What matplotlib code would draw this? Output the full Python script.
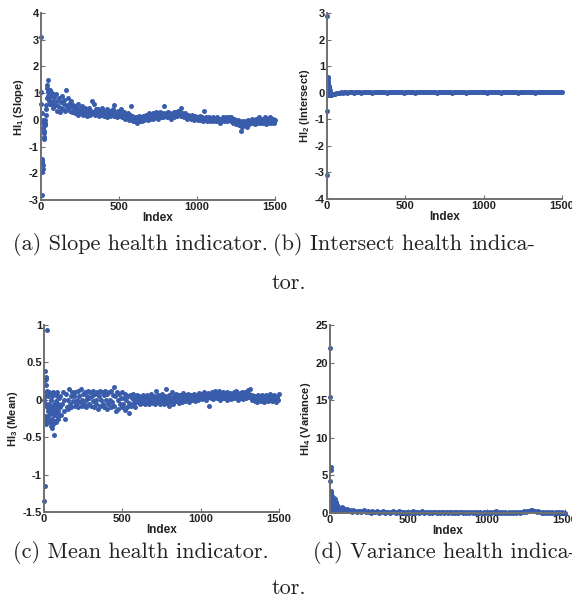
import numpy as np
import matplotlib
matplotlib.use('Agg')
from matplotlib import pyplot as plt
from matplotlib.ticker import FuncFormatter

plt.rcParams['axes.unicode_minus'] = False
plt.rcParams['mathtext.fontset'] = 'custom'
plt.rcParams['mathtext.rm'] = 'Liberation Sans:bold'
plt.rcParams['mathtext.default'] = 'rm'

BLUE = '#3a5dab'
AXIS = '#707070'

# --- (a) slope: early points, then band from index 60 in steps of 5
slope_early_idx = [1, 2, 3, 4, 5, 6, 7, 8, 9, 10, 11, 12, 14, 15, 17, 18, 20, 22, 24, 26,
                   28, 30, 32, 34, 36, 38, 40, 42, 44, 46, 48, 50, 52, 54, 56, 58]
slope_early = [3.1, 1.05, 0.6, 0.25, -1.45, -2.8, -1.95, -1.6, -1.55, -1.7, -1.85, -0.1,
               0.0, -0.3, -0.5, -0.65, -0.7, -0.4, -0.2, 0.0, -0.1, 0.2, 0.4, 0.55, 0.8,
               1.2, 1.3, 1.05, 1.5, 0.9, 1.1, 0.7, 1.0, 0.8, 1.1, 0.6]
slope_band = [
    0.9, 0.6, 1.0, 0.7, 0.45, 0.85, 0.55, 0.95, 0.35, 0.7,
    0.5, 0.8, 0.3, 0.65, 0.45, 0.9, 0.4, 0.6, 0.75, 0.35,
    1.1, 0.5, 0.8, 0.45, 0.6, 0.35, 0.7, 0.5, 0.3, 0.55,
    0.4, 0.25, 0.5, 0.3, 0.45, 0.2, 0.6, 0.35, 0.25, 0.45,
    0.3, 0.5, 0.2, 0.35, 0.45, 0.25, 0.4, 0.15, 0.35, 0.3,
    0.45, 0.2, 0.35, 0.25, 0.7, 0.3, 0.6, 0.2, 0.4, 0.3,
    0.25, 0.4, 0.15, 0.35, 0.3, 0.2, 0.45, 0.25, 0.35, 0.15,
    0.3, 0.2, 0.4, 0.1, 0.3, 0.25, 0.35, 0.15, 0.3, 0.2,
    0.4, 0.15, 0.55, 0.2, 0.3, 0.1, 0.25, 0.35, 0.15, 0.3,
    0.2, 0.4, 0.1, 0.25, 0.15, 0.3, 0.05, 0.2, 0.1, 0.25,
    0.15, 0.0, 0.2, 0.5, 0.05, 0.15, -0.05, 0.1, 0.0, -0.05,
    0.1, -0.1, 0.05, 0.0, 0.15, -0.05, 0.1, 0.05, -0.05, 0.15,
    0.0, 0.1, 0.2, 0.05, 0.15, 0.0, 0.25, 0.1, 0.05, 0.2,
    0.1, 0.25, 0.05, 0.2, 0.15, 0.3, 0.1, 0.2, 0.05, 0.25,
    0.15, 0.3, 0.1, 0.2, 0.25, 0.1, 0.5, 0.15, 0.25, 0.1,
    0.2, 0.3, 0.1, 0.15, 0.25, 0.05, 0.2, 0.15, 0.3, 0.1,
    0.2, 0.3, 0.15, 0.25, 0.35, 0.2, 0.3, 0.15, 0.45, 0.25,
    0.2, 0.1, 0.25, 0.15, 0.2, 0.05, 0.15, 0.2, 0.1, 0.15,
    0.05, 0.2, 0.1, 0.15, 0.0, 0.1, 0.15, 0.05, 0.1, 0.0,
    0.1, 0.05, 0.15, 0.0, 0.05, 0.1, -0.05, 0.35, 0.05, 0.0,
    0.1, -0.05, 0.05, 0.0, 0.1, -0.05, 0.05, 0.0, 0.1, -0.05,
    0.0, 0.05, -0.05, 0.1, 0.0, -0.05, 0.05, 0.0, -0.1, 0.05,
    0.0, 0.1, -0.05, 0.05, 0.0, 0.1, -0.05, 0.05, 0.0, 0.1,
    0.05, -0.05, 0.1, 0.0, -0.1, 0.05, -0.05, 0.0, -0.15, -0.05,
    -0.1, 0.0, -0.2, -0.05, -0.4, -0.15, -0.25, -0.05, -0.2, -0.1,
    -0.15, -0.05, -0.25, -0.1, 0.0, -0.15, -0.05, -0.1, 0.05, -0.05,
    -0.1, 0.0, -0.15, -0.05, 0.05, -0.1, 0.0, -0.05, 0.1, -0.1,
    -0.05, 0.0, -0.1, 0.05, -0.05, 0.1, -0.15, -0.05, 0.0, -0.1,
    0.05, -0.05, 0.1, -0.1, 0.0, -0.05, 0.05, -0.1, 0.0,
]

# --- (b) intersect: early points, then band from index 50 in steps of 10
inter_early_idx = [1, 2, 3, 4, 5, 6, 7, 8, 9, 10, 11, 12, 13, 14, 15, 16, 18, 20, 22, 25,
                   28, 32, 36, 40, 45]
inter_early = [2.9, -3.1, -0.7, 0.6, 0.55, 0.45, -0.1, 0.35, 0.3, 0.2, 0.25, 0.1, 0.15,
               0.05, -0.1, 0.1, 0.0, -0.05, -0.08, -0.1, -0.08, -0.05, -0.04, -0.06, -0.03]
inter_band = [
    -0.03, -0.02, 0.0, -0.01, 0.01, 0.0, 0.02, 0.01, 0.0, 0.02,
    0.01, 0.03, 0.0, 0.02, 0.01, 0.03, 0.02, 0.0, 0.02, 0.01,
    0.02, 0.03, 0.01, 0.02, 0.0, 0.02, 0.03, 0.01, 0.02, 0.02,
    0.01, 0.03, 0.02, 0.0, 0.02, 0.01, 0.03, 0.02, 0.01, 0.02,
    0.03, 0.01, 0.02, 0.02, 0.0, 0.03, 0.01, 0.02, 0.03, 0.01,
    0.02, 0.0, 0.02, 0.03, 0.01, 0.02, 0.01, 0.03, 0.02, 0.01,
    0.02, 0.03, 0.01, 0.02, 0.02, 0.0, 0.03, 0.01, 0.02, 0.02,
    0.01, 0.02, 0.03, 0.01, 0.02, 0.0, 0.02, 0.03, 0.01, 0.02,
    0.02, 0.01, 0.03, 0.02, 0.0, 0.02, 0.01, 0.03, 0.02, 0.01,
    0.02, 0.03, 0.01, 0.02, 0.02, 0.01, 0.03, 0.0, 0.02, 0.02,
    0.01, 0.02, 0.03, 0.01, 0.02, 0.02, 0.0, 0.03, 0.01, 0.02,
    0.02, 0.01, 0.03, 0.02, 0.01, 0.02, 0.03, 0.0, 0.02, 0.01,
    0.03, 0.02, 0.01, 0.02, 0.02, 0.03, 0.01, 0.02, 0.0, 0.02,
    0.01, 0.03, 0.02, 0.01, 0.02, 0.02, 0.03, 0.01, 0.02, 0.01,
    0.02, 0.03, 0.01, 0.02, 0.01, 0.02,
]

# --- (c) mean: early points, then band from index 100 in steps of 5
mean_early_idx = [2, 3, 4, 5, 6, 7, 8, 9, 10, 11, 12, 13, 14, 15, 18, 19, 20, 22, 24, 26,
                  28, 30, 32, 34, 36, 38, 40, 42, 44, 46, 48, 50, 52, 54, 56, 58, 60, 62,
                  64, 66, 68, 70, 72, 74, 76, 78, 80, 82, 84, 86, 88, 90, 92, 94, 96, 98]
mean_early = [0.0, -1.35, -1.15, 0.05, -0.25, -0.22, 0.26, 0.38, 0.3, -0.32, 0.28, 0.1,
              -0.05, 0.2, 0.93, -0.1, 0.12, -0.3, 0.05, -0.15, -0.25, 0.1, -0.05, -0.2,
              0.08, -0.12, -0.3, 0.0, -0.18, -0.35, 0.05, -0.1, -0.25, -0.38, 0.1, -0.15,
              -0.32, -0.05, -0.2, -0.47, 0.08, -0.12, -0.28, -0.02, -0.18, -0.3, 0.05,
              -0.1, -0.22, 0.1, -0.05, -0.15, -0.25, 0.02, -0.08, -0.2]
mean_band = [
    -0.1, 0.05, -0.2, -0.05, 0.1, -0.15, 0.0, -0.25, 0.08, -0.1,
    0.0, -0.12, 0.15, -0.05, 0.05, -0.1, 0.1, -0.02, 0.05, -0.08,
    0.1, -0.05, 0.0, 0.12, -0.1, 0.05, -0.03, 0.15, 0.0, -0.08,
    0.08, -0.05, 0.1, 0.0, -0.1, 0.05, 0.12, -0.06, 0.02, 0.1,
    -0.08, 0.05, -0.02, 0.12, -0.1, 0.08, 0.0, -0.05, 0.1, -0.12,
    0.05, 0.12, -0.08, 0.0, 0.1, -0.05, 0.07, -0.1, 0.12, 0.0,
    -0.12, 0.08, -0.05, 0.1, 0.0, -0.1, 0.12, -0.03, 0.06, 0.17,
    -0.08, 0.05, -0.15, 0.1, 0.0, -0.12, 0.08, -0.05, 0.03, -0.1,
    0.1, -0.06, 0.02, -0.13, 0.08, 0.0, -0.1, 0.05, -0.04, -0.18,
    0.06, -0.08, 0.02, -0.05, 0.08, 0.0, -0.1, 0.04, -0.03, 0.07,
    -0.02, 0.05, -0.06, 0.03, 0.0, -0.04, 0.06, -0.02, 0.02, -0.05,
    0.04, -0.03, 0.06, 0.0, -0.05, 0.03, 0.08, -0.02, 0.02, -0.04,
    0.05, 0.0, -0.06, 0.12, 0.02, -0.03, 0.06, 0.0, -0.05, 0.04,
    0.08, -0.02, 0.03, -0.06, 0.05, 0.0, 0.14, -0.04, 0.02, -0.08,
    0.06, 0.0, -0.03, 0.1, 0.02, -0.05, 0.05, 0.0, 0.08, -0.02,
    0.03, 0.07, -0.04, 0.02, 0.06, 0.0, -0.03, 0.05, 0.09, 0.01,
    -0.02, 0.06, 0.03, 0.0, 0.08, -0.03, 0.04, 0.02, 0.07, 0.0,
    0.05, 0.01, 0.08, -0.02, 0.04, 0.06, 0.0, 0.03, 0.09, 0.02,
    0.05, 0.08, 0.01, 0.06, 0.1, 0.03, 0.07, 0.0, 0.05, 0.09,
    0.04, -0.08, 0.06, 0.02, 0.1, 0.05, 0.01, 0.08, 0.12, 0.04,
    0.06, 0.02, 0.09, 0.05, 0.12, 0.0, 0.07, 0.03, 0.1, 0.05,
    0.02, 0.08, 0.04, 0.11, 0.0, 0.06, 0.03, 0.09, 0.05, 0.01,
    0.07, 0.04, 0.1, 0.02, 0.06, 0.12, 0.03, 0.08, 0.0, 0.05,
    0.09, 0.03, 0.06, 0.11, 0.01, 0.07, 0.04, 0.1, 0.02, 0.06,
    0.13, 0.04, 0.08, 0.15, 0.02, 0.07, 0.0, 0.05, 0.03, -0.02,
    0.05, 0.01, -0.03, 0.06, 0.02, 0.0, 0.04, -0.02, 0.07, 0.01,
    0.03, -0.03, 0.05, 0.0, 0.06, 0.02, -0.02, 0.04, 0.08, 0.0,
    0.03, -0.02, 0.05, 0.01, 0.06, 0.0, -0.03, 0.04, 0.02, 0.0,
    0.08,
]

# --- (d) variance: early points, then band from index 100 in steps of 10
var_early_idx = [1, 2, 3, 4, 5, 6, 7, 8, 9, 10, 11, 12, 13, 14, 15, 16, 18, 20, 22, 24,
                 26, 28, 30, 32, 34, 36, 38, 40, 42, 44, 46, 48, 50, 54, 58, 62, 66, 70,
                 74, 78, 82, 86, 90, 94, 98]
var_early = [21.9, 15.4, 4.2, 6.1, 5.7, 1.5, 2.9, 0.8, 2.6, 1.8, 0.4, 2.3, 1.2, 0.2, 1.6,
             0.6, 1.0, 0.3, 1.4, 0.5, 0.9, 2.0, 0.2, 1.8, 0.7, 1.5, 0.3, 1.2, 0.6, 1.0,
             0.2, 0.8, 0.4, 0.7, 0.3, 0.6, 0.2, 0.5, 0.8, 0.3, 0.6, 0.2, 0.5, 0.3, 0.4]
var_band = [
    0.3, 0.5, 0.2, 0.4, 0.15, 0.35, 0.25, 0.1, 0.3, 0.2,
    0.15, 0.25, 0.4, 0.1, 0.2, 0.15, 0.05, 0.2, 0.1, 0.15,
    0.2, 0.05, 0.15, 0.1, 0.2, 0.05, 0.15, 0.1, 0.05, 0.15,
    0.25, 0.1, 0.05, 0.15, 0.2, 0.05, 0.1, 0.15, 0.05, 0.1,
    0.15, 0.05, 0.1, 0.2, 0.05, 0.1, 0.15, 0.05, 0.1, 0.2,
    0.05, 0.1, 0.15, 0.05, 0.1, 0.05, 0.15, 0.1, 0.05, 0.1,
    0.05, 0.1, 0.15, 0.05, 0.1, 0.05, 0.1, 0.15, 0.05, 0.1,
    0.05, 0.1, 0.05, 0.15, 0.1, 0.05, 0.1, 0.05, 0.1, 0.05,
    0.1, 0.05, 0.15, 0.05, 0.1, 0.05, 0.1, 0.05, 0.1, 0.05,
    0.1, 0.05, 0.1, 0.05, 0.1, 0.15, 0.2, 0.05, 0.1, 0.05,
    0.1, 0.05, 0.1, 0.05, 0.1, 0.05, 0.1, 0.05, 0.1, 0.05,
    0.1, 0.05, 0.15, 0.1, 0.2, 0.15, 0.25, 0.3, 0.45, 0.35,
    0.25, 0.3, 0.15, 0.2, 0.1, 0.05, 0.1, 0.05, 0.1, 0.05,
    0.1, 0.05, 0.1, 0.05, 0.1, 0.05, 0.1, 0.05, 0.1, 0.05,
    0.05,
]

ylabels = ['HI$_1$ (Slope)', 'HI$_2$ (Intersect)', 'HI$_3$ (Mean)', 'HI$_4$ (Variance)']
ylims = [(-3, 4), (-4, 3), (-1.5, 1), (0, 25)]
yticks = [np.arange(-3, 5, 1), np.arange(-4, 4, 1), np.arange(-1.5, 1.01, 0.5), np.arange(0, 26, 5)]
captions = [('(a) Slope health indicator.', None),
            ('(b) Intersect health indica-', 'tor.'),
            ('(c) Mean health indicator.', None),
            ('(d) Variance health indica-', 'tor.')]

series = [
    (slope_early_idx, slope_early, 60, 5, slope_band),
    (inter_early_idx, inter_early, 50, 10, inter_band),
    (mean_early_idx, mean_early, 100, 5, mean_band),
    (var_early_idx, var_early, 100, 10, var_band),
]

# axes rectangles in figure pixels: left, top, right, bottom
W, H = 572, 600
boxes = [(41, 13, 275, 200), (327, 13, 562, 199), (44, 325, 279, 512), (330, 325, 565, 513)]

fig = plt.figure(figsize=(W / 100, H / 100), dpi=100)
fmt = FuncFormatter(lambda v, _: '%g' % v)

for i, (l, t, r, b) in enumerate(boxes):
    ax = fig.add_axes([l / W, 1 - b / H, (r - l) / W, (b - t) / H])
    e_idx, e_val, start, step, band = series[i]
    x = np.concatenate([e_idx, start + step * np.arange(len(band))])
    y = np.concatenate([e_val, band])
    ax.plot(x, y, 'o', color=BLUE, ms=3.6, mew=0, clip_on=False)

    ax.set_xlim(0, 1500)
    ax.set_ylim(*ylims[i])
    ax.set_xticks([0, 500, 1000, 1500])
    ax.set_yticks(yticks[i])
    ax.xaxis.set_major_formatter(fmt)
    ax.yaxis.set_major_formatter(fmt)
    for side in ['top', 'right']:
        ax.spines[side].set_visible(False)
    for side in ['left', 'bottom']:
        ax.spines[side].set_color(AXIS)
        ax.spines[side].set_linewidth(1.4)
    ax.tick_params(direction='in', length=3, width=0.8, color=AXIS, pad=1.5,
                   labelsize=8, labelcolor='#222222')
    for lab in ax.get_xticklabels() + ax.get_yticklabels():
        lab.set_fontweight('bold')
        lab.set_family('Liberation Sans')
    ax.set_xlabel('Index', fontsize=8.5, fontweight='bold', family='Liberation Sans',
                  color='#222222', labelpad=0)
    ax.set_ylabel(ylabels[i], fontsize=8, fontweight='bold', family='Liberation Sans',
                  color='#222222', labelpad=2)

# captions (Computer Modern)
cap_rows = [(245, 283), (552, 588)]
cap_x = [(13, 273), (13, 313)]
for row in range(2):
    y1, y2 = cap_rows[row]
    for col in range(2):
        line1, line2 = captions[row * 2 + col]
        fig.text(cap_x[row][col] / W, 1 - y1 / H, line1, family='cmr10', fontsize=16,
                 ha='left', va='center', color='#222222')
        if line2:
            fig.text(289 / W, 1 - y2 / H, line2, family='cmr10', fontsize=16,
                     ha='center', va='center', color='#222222')

fig.savefig('out.png', dpi=100)
